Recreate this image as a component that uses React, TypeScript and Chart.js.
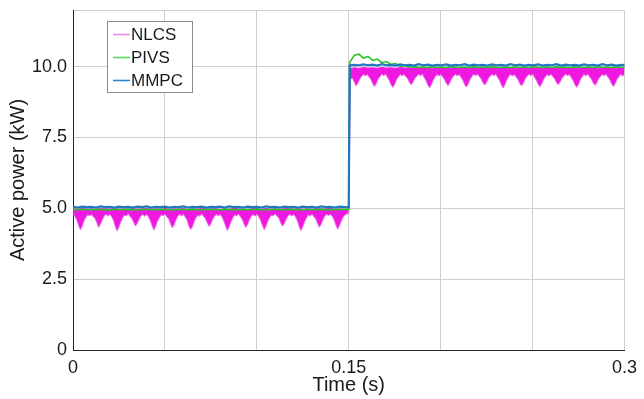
import React, { useEffect, useRef } from 'react';
import { Chart, registerables } from 'chart.js';

Chart.register(...registerables);

// ---------- data ----------
const SAMPLE_STEP = 0.001; // NLCS lower-envelope sampling (s)
const COARSE_STEP = 0.0025; // PIVS / MMPC / NLCS upper-envelope sampling (s)
const STEP_TIME = 0.15; // load step instant (s)
const AFTER_OFFSET = 0.0005; // first coarse sample after the step

const xTickValues = [0, 0.05, 0.1, 0.15, 0.2, 0.25, 0.3];
const xTickLabels = ['0', '', '', '0.15', '', '', '0.3'];
const yTickValues = [0, 2.5, 5, 7.5, 10, 12];
const yTickLabels = ['0', '2.5', '5.0', '7.5', '10.0', ''];

const seriesNames = ['NLCS', 'PIVS', 'MMPC'];

// NLCS ripple band, lower edge, t = 0.000 .. 0.149 s (every 1 ms)
const nlcsLowerBefore = [
  4.80, 4.72, 4.60, 4.40, 4.24, 4.36, 4.56, 4.68, 4.77, 4.74,
  4.78, 4.70, 4.64, 4.48, 4.33, 4.45, 4.60, 4.73, 4.79, 4.72,
  4.79, 4.70, 4.58, 4.36, 4.20, 4.34, 4.52, 4.66, 4.76, 4.73,
  4.81, 4.71, 4.65, 4.50, 4.38, 4.47, 4.62, 4.74, 4.78, 4.72,
  4.78, 4.71, 4.57, 4.39, 4.23, 4.37, 4.55, 4.67, 4.77, 4.74,
  4.80, 4.70, 4.63, 4.46, 4.31, 4.42, 4.59, 4.72, 4.79, 4.73,
  4.79, 4.70, 4.59, 4.38, 4.25, 4.35, 4.54, 4.68, 4.76, 4.72,
  4.81, 4.72, 4.64, 4.49, 4.36, 4.46, 4.61, 4.73, 4.78, 4.74,
  4.78, 4.70, 4.56, 4.37, 4.22, 4.36, 4.53, 4.67, 4.77, 4.73,
  4.80, 4.71, 4.62, 4.45, 4.32, 4.43, 4.60, 4.72, 4.79, 4.72,
  4.79, 4.71, 4.58, 4.40, 4.24, 4.38, 4.55, 4.68, 4.76, 4.74,
  4.81, 4.72, 4.65, 4.48, 4.37, 4.47, 4.62, 4.74, 4.78, 4.73,
  4.78, 4.70, 4.57, 4.36, 4.21, 4.35, 4.53, 4.66, 4.77, 4.72,
  4.80, 4.71, 4.63, 4.47, 4.33, 4.44, 4.60, 4.73, 4.79, 4.74,
  4.79, 4.72, 4.59, 4.41, 4.26, 4.39, 4.56, 4.69, 4.77, 4.80,
];
// NLCS ripple band, lower edge, t = 0.150 .. 0.300 s (every 1 ms)
const nlcsLowerAfter = [
  4.82, 9.55, 9.60, 9.45, 9.32, 9.42, 9.56, 9.66, 9.72, 9.68,
  9.72, 9.64, 9.55, 9.40, 9.30, 9.41, 9.57, 9.65, 9.73, 9.68,
  9.73, 9.63, 9.52, 9.36, 9.27, 9.38, 9.54, 9.64, 9.72, 9.67,
  9.72, 9.65, 9.58, 9.44, 9.36, 9.46, 9.59, 9.67, 9.73, 9.68,
  9.74, 9.62, 9.51, 9.35, 9.26, 9.37, 9.53, 9.64, 9.72, 9.67,
  9.73, 9.64, 9.56, 9.42, 9.33, 9.44, 9.58, 9.66, 9.73, 9.68,
  9.72, 9.63, 9.53, 9.37, 9.28, 9.39, 9.55, 9.65, 9.74, 9.67,
  9.74, 9.65, 9.57, 9.43, 9.35, 9.45, 9.59, 9.67, 9.72, 9.68,
  9.73, 9.62, 9.52, 9.36, 9.25, 9.37, 9.54, 9.64, 9.73, 9.67,
  9.72, 9.64, 9.55, 9.41, 9.32, 9.42, 9.57, 9.66, 9.73, 9.68,
  9.74, 9.63, 9.53, 9.38, 9.29, 9.40, 9.55, 9.65, 9.72, 9.67,
  9.73, 9.65, 9.57, 9.44, 9.36, 9.46, 9.59, 9.67, 9.74, 9.68,
  9.72, 9.62, 9.51, 9.36, 9.27, 9.38, 9.54, 9.64, 9.73, 9.67,
  9.74, 9.64, 9.56, 9.42, 9.34, 9.44, 9.58, 9.66, 9.72, 9.68,
  9.73, 9.63, 9.54, 9.39, 9.30, 9.41, 9.56, 9.65, 9.73, 9.67,
  9.73,
];
// NLCS ripple band, upper edge, t = 0 .. 0.15 s (every 2.5 ms)
const nlcsUpperBefore = [
  4.98, 4.97, 4.99, 4.97, 4.98, 4.96, 4.99, 4.98, 4.97, 4.99,
  4.97, 4.98, 4.96, 4.99, 4.97, 4.98, 4.99, 4.97, 4.98, 4.96,
  4.99, 4.97, 4.98, 4.97, 4.99, 4.96, 4.98, 4.97, 4.99, 4.98,
  4.97, 4.99, 4.96, 4.98, 4.97, 4.99, 4.98, 4.97, 4.96, 4.99,
  4.98, 4.97, 4.99, 4.97, 4.98, 4.96, 4.99, 4.98, 4.97, 4.99,
  4.97, 4.98, 4.96, 4.99, 4.97, 4.98, 4.99, 4.97, 4.98, 4.96,
  4.98,
];
// NLCS ripple band, upper edge, t = 0.1505 .. (every 2.5 ms)
const nlcsUpperAfter = [
  9.92, 9.96, 9.94, 9.97, 9.95, 9.96, 9.94, 9.97, 9.95, 9.96,
  9.94, 9.97, 9.95, 9.96, 9.94, 9.97, 9.95, 9.96, 9.94, 9.97,
  9.95, 9.96, 9.94, 9.97, 9.95, 9.96, 9.94, 9.97, 9.95, 9.96,
  9.94, 9.97, 9.95, 9.96, 9.94, 9.97, 9.95, 9.96, 9.94, 9.97,
  9.95, 9.96, 9.94, 9.97, 9.95, 9.96, 9.94, 9.97, 9.95, 9.96,
  9.94, 9.97, 9.95, 9.96, 9.94, 9.97, 9.95, 9.96, 9.94, 9.97,
  9.95,
];

// PIVS, t = 0 .. 0.15 s (every 2.5 ms)
const pivsBefore = [
  4.96, 4.95, 4.97, 4.96, 4.94, 4.97, 4.95, 4.96, 4.94, 4.97,
  4.96, 4.95, 4.97, 4.94, 4.96, 4.95, 4.97, 4.96, 4.94, 4.97,
  4.95, 4.96, 4.94, 4.97, 4.96, 4.95, 4.97, 4.94, 4.96, 4.95,
  4.97, 4.96, 4.94, 4.97, 4.95, 4.96, 4.94, 4.97, 4.96, 4.95,
  4.97, 4.94, 4.96, 4.95, 4.97, 4.96, 4.94, 4.97, 4.95, 4.96,
  4.94, 4.97, 4.96, 4.95, 4.97, 4.94, 4.96, 4.95, 4.97, 4.96,
  4.96,
];
// PIVS, t = 0.1505 .. (every 2.5 ms)
const pivsAfter = [
  10.15, 10.40, 10.44, 10.30, 10.36, 10.22, 10.27, 10.14, 10.18, 10.08,
  10.11, 10.02, 10.04, 9.98, 10.00, 9.97, 9.99, 9.96, 10.00, 9.97,
  9.99, 9.96, 10.00, 9.98, 9.97, 9.99, 9.96, 10.00, 9.97, 9.99,
  9.96, 10.00, 9.98, 9.97, 9.99, 9.96, 10.00, 9.97, 9.99, 9.96,
  10.00, 9.98, 9.97, 9.99, 9.96, 10.00, 9.97, 9.99, 9.96, 10.00,
  9.98, 9.97, 9.99, 9.96, 10.00, 9.97, 9.99, 9.96, 10.00, 9.98,
  9.97,
];

// MMPC, t = 0 .. 0.15 s (every 2.5 ms)
const mmpcBefore = [
  5.05, 5.03, 5.06, 5.04, 5.05, 5.03, 5.07, 5.04, 5.05, 5.03,
  5.06, 5.04, 5.05, 5.03, 5.06, 5.04, 5.07, 5.03, 5.05, 5.04,
  5.06, 5.03, 5.05, 5.04, 5.07, 5.03, 5.05, 5.04, 5.06, 5.03,
  5.05, 5.04, 5.06, 5.03, 5.07, 5.04, 5.05, 5.03, 5.06, 5.04,
  5.05, 5.03, 5.07, 5.04, 5.05, 5.03, 5.06, 5.04, 5.05, 5.03,
  5.06, 5.04, 5.05, 5.03, 5.07, 5.04, 5.05, 5.03, 5.06, 5.04,
  5.05,
];
// MMPC, t = 0.1505 .. (every 2.5 ms)
const mmpcAfter = [
  10.04, 10.06, 10.05, 10.08, 10.05, 10.07, 10.04, 10.09, 10.05, 10.06,
  10.04, 10.08, 10.05, 10.06, 10.04, 10.09, 10.05, 10.07, 10.04, 10.06,
  10.05, 10.08, 10.04, 10.06, 10.05, 10.09, 10.04, 10.07, 10.05, 10.06,
  10.04, 10.08, 10.05, 10.06, 10.04, 10.09, 10.05, 10.07, 10.04, 10.06,
  10.05, 10.08, 10.04, 10.06, 10.05, 10.09, 10.04, 10.07, 10.05, 10.06,
  10.04, 10.08, 10.05, 10.06, 10.04, 10.09, 10.05, 10.07, 10.04, 10.06,
  10.05,
];

// ---------- styles ----------
const COLORS = ['#ee18e0', '#22c41f', '#1f78c1'];
const LEGEND_COLORS = ['#f08ae8', '#5cd85a', '#2a86cc'];
const FONT = "'Liberation Sans', Arial, Helvetica, sans-serif";

const r5 = (v: number) => Math.round(v * 100000) / 100000;

function buildFine(values: number[]) {
  return values.map((y, i) => ({ x: r5(i * SAMPLE_STEP), y }));
}
function buildCoarse(before: number[], after: number[]) {
  const a = before.map((y, i) => ({ x: r5(i * COARSE_STEP), y }));
  const b = after.map((y, i) => ({ x: r5(STEP_TIME + AFTER_OFFSET + i * COARSE_STEP), y }));
  return [...a, ...b];
}

const legendPlugin = {
  id: 'boxLegend',
  afterDraw(chart: any) {
    const ctx = chart.ctx;
    const { left, top } = chart.chartArea;
    const bx = left + 34;
    const by = top + 11;
    const bw = 85;
    const bh = 71;
    ctx.save();
    ctx.fillStyle = '#ffffff';
    ctx.fillRect(bx, by, bw, bh);
    ctx.strokeStyle = '#8c8c8c';
    ctx.lineWidth = 1;
    ctx.strokeRect(bx + 0.5, by + 0.5, bw, bh);
    ctx.font = `17px ${FONT}`;
    ctx.textBaseline = 'middle';
    ctx.textAlign = 'left';
    seriesNames.forEach((name, i) => {
      const y = by + 13 + i * 23;
      ctx.strokeStyle = LEGEND_COLORS[i];
      ctx.lineWidth = 1.6;
      ctx.beginPath();
      ctx.moveTo(bx + 6, y + 0.5);
      ctx.lineTo(bx + 23, y + 0.5);
      ctx.stroke();
      ctx.fillStyle = '#1a1a1a';
      ctx.fillText(name, bx + 24, y + 1);
    });
    ctx.restore();
  },
};

export default function App() {
  const ref = useRef<HTMLCanvasElement | null>(null);

  useEffect(() => {
    if (!ref.current) return;
    const base = { pointRadius: 0, tension: 0 };
    const chart = new Chart(ref.current, {
      type: 'line',
      data: {
        datasets: [
          {
            ...base,
            label: seriesNames[0],
            data: buildCoarse(nlcsUpperBefore, nlcsUpperAfter),
            borderColor: COLORS[0],
            borderWidth: 1,
            fill: false,
            order: 3,
          },
          {
            ...base,
            label: seriesNames[0] + ' (ripple)',
            data: buildFine([...nlcsLowerBefore, ...nlcsLowerAfter]),
            borderColor: '#f070e6',
            backgroundColor: COLORS[0],
            borderWidth: 1,
            fill: '-1',
            order: 2,
          },
          {
            ...base,
            label: seriesNames[1],
            data: buildCoarse(pivsBefore, pivsAfter),
            borderColor: COLORS[1],
            borderWidth: 1.6,
            fill: false,
            order: 1,
          },
          {
            ...base,
            label: seriesNames[2],
            data: buildCoarse(mmpcBefore, mmpcAfter),
            borderColor: COLORS[2],
            borderWidth: 2.2,
            fill: false,
            order: 0,
          },
        ],
      },
      options: {
        responsive: false,
        animation: false,
        layout: { padding: { top: 10, right: 15, left: 0, bottom: 0 } },
        plugins: {
          legend: { display: false },
          tooltip: { enabled: false },
          filler: { propagate: false },
        },
        scales: {
          x: {
            type: 'linear',
            min: 0,
            max: 0.3,
            afterBuildTicks: (s: any) => {
              s.ticks = xTickValues.map((v) => ({ value: v }));
            },
            afterFit: (s: any) => {
              s.height = 49;
            },
            ticks: {
              autoSkip: false,
              maxRotation: 0,
              padding: 7,
              color: '#1a1a1a',
              font: { family: FONT, size: 18 },
              callback: (_v: any, i: number) => xTickLabels[i],
            },
            grid: { color: '#cfcfcf', lineWidth: 1, drawTicks: false },
            border: { color: '#262626', width: 1 },
            title: {
              display: true,
              text: 'Time (s)',
              color: '#1a1a1a',
              font: { family: FONT, size: 20 },
              padding: { top: 0, bottom: 2 },
            },
          },
          y: {
            type: 'linear',
            min: 0,
            max: 12,
            afterBuildTicks: (s: any) => {
              s.ticks = yTickValues.map((v) => ({ value: v }));
            },
            afterFit: (s: any) => {
              s.width = 73;
              s.paddingTop = 0;
              s.paddingBottom = 0;
            },
            ticks: {
              autoSkip: false,
              padding: 6,
              color: '#1a1a1a',
              font: { family: FONT, size: 18 },
              callback: (_v: any, i: number) => yTickLabels[i],
            },
            grid: { color: '#cfcfcf', lineWidth: 1, drawTicks: false },
            border: { color: '#262626', width: 1 },
            title: {
              display: true,
              text: 'Active power (kW)',
              color: '#1a1a1a',
              font: { family: FONT, size: 20 },
              padding: { top: 6, bottom: 0 },
            },
          },
        },
      },
      plugins: [legendPlugin],
    } as any);
    return () => chart.destroy();
  }, []);

  return (
    <div style={{ position: 'absolute', left: 0, top: 0, width: 644, height: 399 }}>
      <canvas ref={ref} width={644} height={399} style={{ display: 'block', width: 644, height: 399 }} />
    </div>
  );
}
